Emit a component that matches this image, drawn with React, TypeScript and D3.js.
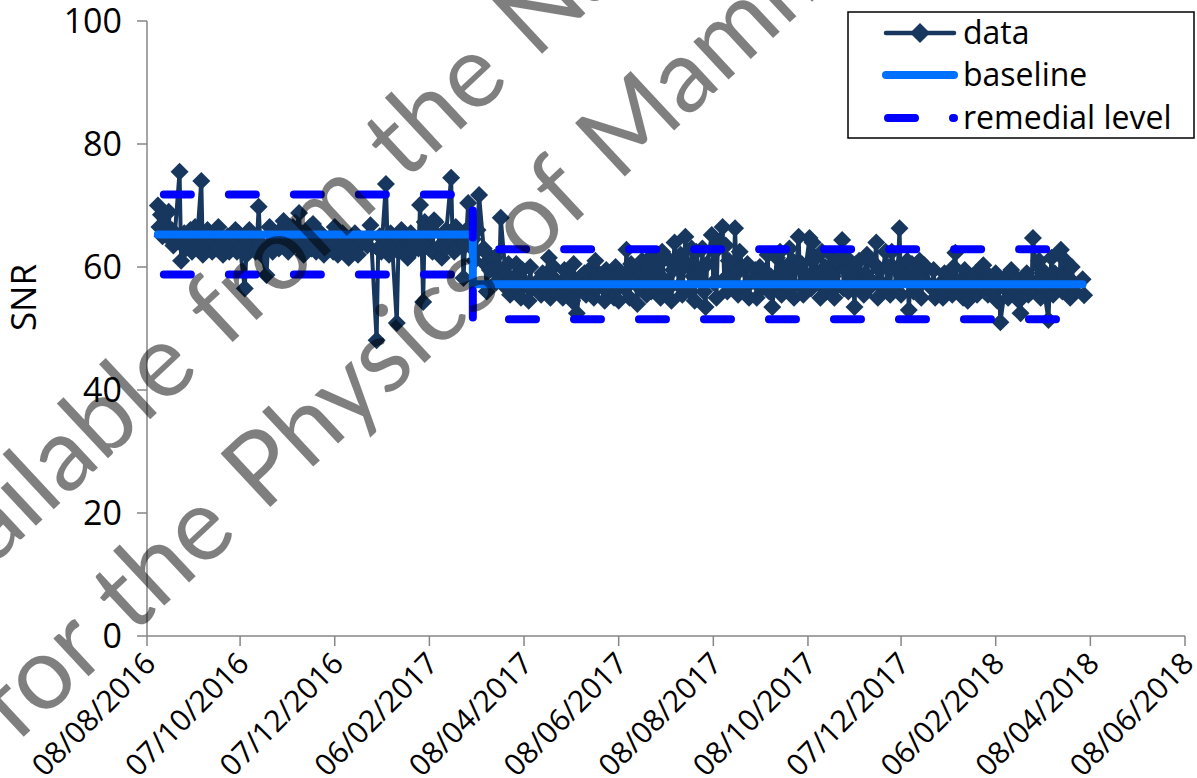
import React from "react";
import * as d3 from "d3";

const WIDTH = 1197;
const HEIGHT = 778;

// Plot frame
const PLOT = { left: 147, right: 1185, top: 21, bottom: 636 };

const xTickLabels = [
  "08/08/2016", "07/10/2016", "07/12/2016", "06/02/2017", "08/04/2017", "08/06/2017",
  "08/08/2017", "08/10/2017", "07/12/2017", "06/02/2018", "08/04/2018", "08/06/2018",
];
const yTickValues = [0, 20, 40, 60, 80, 100];

// Daily QC sessions (dd/mm/yyyy), one row per month
const sessionDates: string[] = [
  "15/08/2016", "16/08/2016", "17/08/2016", "18/08/2016", "19/08/2016", "22/08/2016", "23/08/2016", "24/08/2016", "25/08/2016", "26/08/2016", "29/08/2016", "30/08/2016", "31/08/2016",
  "01/09/2016", "02/09/2016", "05/09/2016", "06/09/2016", "07/09/2016", "08/09/2016", "09/09/2016", "12/09/2016", "13/09/2016", "14/09/2016", "15/09/2016", "16/09/2016", "19/09/2016", "20/09/2016", "21/09/2016", "22/09/2016", "23/09/2016", "26/09/2016", "27/09/2016", "28/09/2016", "29/09/2016", "30/09/2016",
  "03/10/2016", "04/10/2016", "05/10/2016", "06/10/2016", "07/10/2016", "10/10/2016", "11/10/2016", "12/10/2016", "13/10/2016", "14/10/2016", "17/10/2016", "18/10/2016", "19/10/2016", "20/10/2016", "21/10/2016", "24/10/2016", "25/10/2016", "26/10/2016", "27/10/2016", "28/10/2016", "31/10/2016",
  "01/11/2016", "02/11/2016", "03/11/2016", "04/11/2016", "07/11/2016", "08/11/2016", "09/11/2016", "10/11/2016", "11/11/2016", "14/11/2016", "15/11/2016", "16/11/2016", "17/11/2016", "18/11/2016", "21/11/2016", "22/11/2016", "23/11/2016", "24/11/2016", "25/11/2016", "28/11/2016", "29/11/2016", "30/11/2016",
  "01/12/2016", "02/12/2016", "05/12/2016", "06/12/2016", "07/12/2016", "08/12/2016", "09/12/2016", "12/12/2016", "13/12/2016", "14/12/2016", "15/12/2016", "16/12/2016", "19/12/2016", "20/12/2016", "21/12/2016", "22/12/2016", "23/12/2016", "28/12/2016", "29/12/2016", "30/12/2016",
  "03/01/2017", "04/01/2017", "05/01/2017", "06/01/2017", "09/01/2017", "10/01/2017", "11/01/2017", "12/01/2017", "13/01/2017", "16/01/2017", "17/01/2017", "18/01/2017", "19/01/2017", "20/01/2017", "23/01/2017", "24/01/2017", "25/01/2017", "26/01/2017", "27/01/2017", "30/01/2017", "31/01/2017",
  "01/02/2017", "02/02/2017", "03/02/2017", "06/02/2017", "07/02/2017", "08/02/2017", "09/02/2017", "10/02/2017", "13/02/2017", "14/02/2017", "15/02/2017", "16/02/2017", "17/02/2017", "20/02/2017", "21/02/2017", "22/02/2017", "23/02/2017", "24/02/2017", "27/02/2017", "28/02/2017",
  "01/03/2017", "02/03/2017", "03/03/2017", "06/03/2017", "07/03/2017", "08/03/2017", "09/03/2017", "10/03/2017", "13/03/2017", "14/03/2017", "15/03/2017", "16/03/2017", "17/03/2017", "20/03/2017", "21/03/2017", "22/03/2017", "23/03/2017", "24/03/2017", "27/03/2017", "28/03/2017", "29/03/2017", "30/03/2017", "31/03/2017",
  "03/04/2017", "04/04/2017", "05/04/2017", "06/04/2017", "07/04/2017", "10/04/2017", "11/04/2017", "12/04/2017", "13/04/2017", "18/04/2017", "19/04/2017", "20/04/2017", "21/04/2017", "24/04/2017", "25/04/2017", "26/04/2017", "27/04/2017", "28/04/2017",
  "02/05/2017", "03/05/2017", "04/05/2017", "05/05/2017", "08/05/2017", "09/05/2017", "10/05/2017", "11/05/2017", "12/05/2017", "15/05/2017", "16/05/2017", "17/05/2017", "18/05/2017", "19/05/2017", "22/05/2017", "23/05/2017", "24/05/2017", "25/05/2017", "26/05/2017", "30/05/2017", "31/05/2017",
  "01/06/2017", "02/06/2017", "05/06/2017", "06/06/2017", "07/06/2017", "08/06/2017", "09/06/2017", "12/06/2017", "13/06/2017", "14/06/2017", "15/06/2017", "16/06/2017", "19/06/2017", "20/06/2017", "21/06/2017", "22/06/2017", "23/06/2017", "26/06/2017", "27/06/2017", "28/06/2017", "29/06/2017", "30/06/2017",
  "03/07/2017", "04/07/2017", "05/07/2017", "06/07/2017", "07/07/2017", "10/07/2017", "11/07/2017", "12/07/2017", "13/07/2017", "14/07/2017", "17/07/2017", "18/07/2017", "19/07/2017", "20/07/2017", "21/07/2017", "24/07/2017", "25/07/2017", "26/07/2017", "27/07/2017", "28/07/2017", "31/07/2017",
  "01/08/2017", "02/08/2017", "03/08/2017", "04/08/2017", "07/08/2017", "08/08/2017", "09/08/2017", "10/08/2017", "11/08/2017", "14/08/2017", "15/08/2017", "16/08/2017", "17/08/2017", "18/08/2017", "21/08/2017", "22/08/2017", "23/08/2017", "24/08/2017", "25/08/2017", "29/08/2017", "30/08/2017", "31/08/2017",
  "01/09/2017", "04/09/2017", "05/09/2017", "06/09/2017", "07/09/2017", "08/09/2017", "11/09/2017", "12/09/2017", "13/09/2017", "14/09/2017", "15/09/2017", "18/09/2017", "19/09/2017", "20/09/2017", "21/09/2017", "22/09/2017", "25/09/2017", "26/09/2017", "27/09/2017", "28/09/2017", "29/09/2017",
  "02/10/2017", "03/10/2017", "04/10/2017", "05/10/2017", "06/10/2017", "09/10/2017", "10/10/2017", "11/10/2017", "12/10/2017", "13/10/2017", "16/10/2017", "17/10/2017", "18/10/2017", "19/10/2017", "20/10/2017", "23/10/2017", "24/10/2017", "25/10/2017", "26/10/2017", "27/10/2017", "30/10/2017", "31/10/2017",
  "01/11/2017", "02/11/2017", "03/11/2017", "06/11/2017", "07/11/2017", "08/11/2017", "09/11/2017", "10/11/2017", "13/11/2017", "14/11/2017", "15/11/2017", "16/11/2017", "17/11/2017", "20/11/2017", "21/11/2017", "22/11/2017", "23/11/2017", "24/11/2017", "27/11/2017", "28/11/2017", "29/11/2017", "30/11/2017",
  "01/12/2017", "04/12/2017", "05/12/2017", "06/12/2017", "07/12/2017", "08/12/2017", "11/12/2017", "12/12/2017", "13/12/2017", "14/12/2017", "15/12/2017", "18/12/2017", "19/12/2017", "20/12/2017", "21/12/2017", "22/12/2017", "27/12/2017", "28/12/2017", "29/12/2017",
  "02/01/2018", "03/01/2018", "04/01/2018", "05/01/2018", "08/01/2018", "09/01/2018", "10/01/2018", "11/01/2018", "12/01/2018", "15/01/2018", "16/01/2018", "17/01/2018", "18/01/2018", "19/01/2018", "22/01/2018", "23/01/2018", "24/01/2018", "25/01/2018", "26/01/2018", "29/01/2018", "30/01/2018", "31/01/2018",
  "01/02/2018", "02/02/2018", "05/02/2018", "06/02/2018", "07/02/2018", "08/02/2018", "09/02/2018", "12/02/2018", "13/02/2018", "14/02/2018", "15/02/2018", "16/02/2018", "19/02/2018", "20/02/2018", "21/02/2018", "22/02/2018", "23/02/2018", "26/02/2018", "27/02/2018", "28/02/2018",
  "01/03/2018", "02/03/2018", "05/03/2018", "06/03/2018", "07/03/2018", "08/03/2018", "09/03/2018", "12/03/2018", "13/03/2018", "14/03/2018", "15/03/2018", "16/03/2018", "19/03/2018", "20/03/2018", "21/03/2018", "22/03/2018", "23/03/2018", "26/03/2018", "27/03/2018", "28/03/2018", "29/03/2018",
  "03/04/2018", "04/04/2018",
];

// Measured SNR, same order as sessionDates
const snrValues: number[] = [
  70.0, 66.5, 68.5, 65.0, 67.0, 69.0, 64.5, 66.0, 63.5, 65.5, 75.5, 61.0, 64.0,
  65.5, 63.0, 66.0, 62.5, 64.5, 66.5, 63.5, 74.0, 62.0, 65.0, 63.5, 66.0, 62.5, 64.0, 65.5, 63.0, 66.5, 62.0, 64.5, 63.0, 65.0, 62.5,
  64.0, 66.0, 62.5, 65.5, 63.0, 56.5, 62.0, 64.5, 66.0, 63.0, 62.5, 65.0, 69.8, 64.0, 62.0, 58.7, 63.5, 66.5, 64.0, 62.5, 65.0,
  63.0, 66.0, 64.5, 67.5, 62.5, 65.0, 63.5, 66.5, 64.0, 68.8, 63.0, 65.5, 62.0, 64.5, 66.5, 63.0, 67.0, 64.0, 62.5, 65.5, 63.5, 62.0,
  64.5, 63.0, 65.0, 62.5, 66.5, 64.0, 62.0, 65.5, 63.0, 64.5, 62.5, 61.5, 64.0, 65.5, 63.0, 62.0, 64.5, 63.5, 65.0, 66.8,
  48.1, 63.0, 65.0, 62.5, 73.5, 64.0, 62.0, 65.5, 63.5, 50.9, 62.5, 64.5, 66.0, 63.0, 61.5, 64.0, 65.5, 62.5, 64.0, 63.0, 70.1,
  64.0, 54.3, 67.3, 63.0, 65.5, 62.5, 67.6, 67.3, 63.5, 61.5, 65.0, 63.0, 66.0, 74.5, 64.0, 62.5, 66.5, 63.0, 65.0, 58.2,
  63.5, 66.0, 70.4, 64.5, 61.0, 62.5, 66.0, 71.7, 63.0, 60.5, 56.0, 62.0, 59.5, 61.5, 57.5, 60.0, 58.5, 68.0, 59.0, 56.5, 60.5, 55.5, 58.0,
  60.5, 56.0, 58.5, 55.0, 59.5, 57.0, 54.5, 60.0, 56.5, 58.0, 55.5, 59.0, 57.0, 61.5, 55.0, 58.5, 60.0, 56.0,
  57.5, 55.0, 59.5, 56.0, 58.0, 54.5, 60.5, 57.0, 52.5, 58.5, 56.0, 59.0, 55.5, 57.5, 60.0, 55.0, 61.0, 56.5, 58.0, 54.5, 59.5,
  56.0, 58.5, 55.0, 60.0, 57.0, 54.5, 59.0, 56.5, 62.8, 57.5, 55.0, 60.5, 58.0, 54.0, 59.5, 56.5, 61.0, 55.5, 58.5, 60.0, 56.0, 62.0,
  57.5, 60.5, 55.0, 62.5, 58.0, 56.5, 61.0, 54.5, 59.5, 64.0, 57.0, 62.0, 55.5, 60.0, 64.9, 56.0, 63.0, 58.5, 54.5, 62.5, 57.5,
  63.0, 56.0, 53.5, 60.5, 65.2, 57.5, 62.5, 55.0, 64.0, 66.5, 58.0, 63.5, 56.0, 61.0, 57.5, 66.3, 59.0, 55.5, 62.5, 57.0, 60.5, 55.0,
  57.5, 59.5, 55.0, 58.0, 60.0, 56.5, 59.0, 62.0, 56.0, 58.5, 53.5, 61.5, 57.0, 62.5, 55.5, 60.0, 58.0, 63.0, 56.5, 61.0, 55.0,
  64.9, 57.0, 60.5, 55.5, 59.0, 64.7, 56.5, 64.0, 58.0, 61.5, 55.0, 62.5, 57.5, 60.0, 56.0, 62.0, 58.5, 55.0, 61.0, 57.0, 64.4, 56.5,
  59.5, 61.5, 56.0, 58.5, 53.5, 60.5, 57.0, 61.0, 55.5, 59.0, 62.0, 56.5, 58.0, 60.5, 64.0, 55.0, 59.5, 57.5, 62.5, 56.0, 60.0, 55.5,
  62.5, 57.0, 60.0, 66.3, 55.5, 58.5, 61.0, 53.0, 57.5, 60.5, 56.0, 59.0, 61.0, 55.0, 58.0, 60.3, 56.5, 59.5, 55.0,
  57.5, 55.0, 59.0, 56.0, 58.5, 55.5, 60.0, 62.3, 56.5, 58.0, 55.0, 59.5, 57.0, 54.5, 58.5, 56.0, 59.0, 55.5, 57.5, 60.3, 56.0, 58.0,
  55.5, 58.5, 56.0, 59.0, 54.5, 57.5, 51.0, 56.5, 58.5, 55.0, 57.0, 59.5, 56.0, 58.0, 54.5, 52.5, 57.0, 59.0, 55.5, 58.0,
  56.0, 64.7, 57.5, 61.0, 55.0, 59.5, 56.5, 51.4, 58.0, 61.5, 55.5, 59.0, 57.0, 62.8, 56.0, 58.5, 61.0, 55.0, 60.0, 57.5, 56.0,
  58.0, 55.4,
];

// Baseline and remedial levels, stepping down when the baseline was reset
const levelDates = ["15/08/2016", "06/03/2017", "06/03/2017", "03/04/2018"];
const baselineValues = [65.3, 65.3, 57.2, 57.2];
const upperRemedialValues = [71.8, 71.8, 62.9, 62.9];
const lowerRemedialValues = [58.8, 58.8, 51.5, 51.5];

const legendLabels = ["data", "baseline", "remedial level"];
const watermarkLines = [
  "Available from the National Coordinating Centre",
  "for the Physics of Mammography",
];

const COLORS = {
  data: "#17375E",
  baseline: "#0070FF",
  remedial: "#0000FF",
  axis: "#868686",
};

const FONT = "'Open Sans', 'DejaVu Sans', sans-serif";
const WATERMARK_FONT = "Lato, 'Open Sans', sans-serif";
const parseDate = d3.timeParse("%d/%m/%Y");

export default function App() {
  const x = d3
    .scaleTime()
    .domain([parseDate(xTickLabels[0])!, parseDate(xTickLabels[xTickLabels.length - 1])!])
    .range([PLOT.left, PLOT.right]);
  const y = d3.scaleLinear().domain([0, 100]).range([PLOT.bottom, PLOT.top]);

  type Pt = [Date, number];
  const line = d3
    .line<Pt>()
    .x((d) => x(d[0]))
    .y((d) => y(d[1]));

  const n = Math.min(sessionDates.length, snrValues.length);
  const dataPts: Pt[] = sessionDates.slice(0, n).map((s, i) => [parseDate(s)!, snrValues[i]]);
  const levelPts = (vals: number[]): Pt[] => levelDates.map((s, i) => [parseDate(s)!, vals[i]]);

  const diamond = (cx: number, cy: number, r: number) =>
    `M${cx},${cy - r}L${cx + r},${cy}L${cx},${cy + r}L${cx - r},${cy}Z`;

  const dash = "27 38";
  const legendRows = [33, 75, 118];

  return (
    <svg
      width={WIDTH}
      height={HEIGHT}
      style={{ position: "absolute", left: 0, top: 0, background: "#fff" }}
      fontFamily={FONT}
    >
      <rect x={0} y={0} width={WIDTH} height={HEIGHT} fill="#fff" />

      {/* y axis */}
      <line x1={PLOT.left} x2={PLOT.left} y1={PLOT.top} y2={PLOT.bottom} stroke={COLORS.axis} strokeWidth={1.5} />
      {yTickValues.map((v) => (
        <g key={v}>
          <line x1={PLOT.left - 10} x2={PLOT.left} y1={y(v)} y2={y(v)} stroke={COLORS.axis} strokeWidth={1.5} />
          <text x={122} y={y(v)} dy="0.35em" textAnchor="end" fontSize={34} fill="#000">
            {v}
          </text>
        </g>
      ))}
      <text
        transform={`translate(36,${(PLOT.top + PLOT.bottom) / 2 - 31}) rotate(-90)`}
        textAnchor="middle"
        fontSize={35}
        fill="#000"
      >
        SNR
      </text>

      {/* x axis */}
      <line x1={PLOT.left} x2={PLOT.right} y1={PLOT.bottom} y2={PLOT.bottom} stroke={COLORS.axis} strokeWidth={1.5} />
      {xTickLabels.map((lbl) => {
        const tx = x(parseDate(lbl)!);
        return (
          <g key={lbl}>
            <line x1={tx} x2={tx} y1={PLOT.bottom} y2={PLOT.bottom + 10} stroke={COLORS.axis} strokeWidth={1.5} />
            <text
              transform={`translate(${tx + 3},${PLOT.bottom + 22}) rotate(-45)`}
              textAnchor="end"
              dy="0.35em"
              fontSize={30}
              fill="#000"
            >
              {lbl}
            </text>
          </g>
        );
      })}

      {/* data series */}
      <path d={line(dataPts) ?? ""} fill="none" stroke={COLORS.data} strokeWidth={4} strokeLinejoin="round" />
      <g fill={COLORS.data}>
        {dataPts.map((d, i) => (
          <path key={i} d={diamond(x(d[0]), y(d[1]), 9)} />
        ))}
      </g>

      {/* baseline */}
      <path
        d={line(levelPts(baselineValues)) ?? ""}
        fill="none"
        stroke={COLORS.baseline}
        strokeWidth={8}
        strokeLinecap="round"
      />

      {/* remedial levels */}
      {[upperRemedialValues, lowerRemedialValues].map((vals, i) => (
        <path
          key={i}
          d={line(levelPts(vals)) ?? ""}
          fill="none"
          stroke={COLORS.remedial}
          strokeWidth={8}
          strokeDasharray={dash}
          strokeDashoffset={-6}
          strokeLinecap="round"
        />
      ))}

      {/* legend */}
      <rect x={848} y={12} width={346} height={126} fill="#fff" stroke="#000" strokeWidth={1.5} />
      <line x1={886} x2={954} y1={legendRows[0]} y2={legendRows[0]} stroke={COLORS.data} strokeWidth={4.5} strokeLinecap="round" />
      <path d={diamond(920, legendRows[0], 10)} fill={COLORS.data} />
      <line x1={886} x2={954} y1={legendRows[1]} y2={legendRows[1]} stroke={COLORS.baseline} strokeWidth={8} strokeLinecap="round" />
      <line
        x1={888}
        x2={954}
        y1={legendRows[2]}
        y2={legendRows[2]}
        stroke={COLORS.remedial}
        strokeWidth={8}
        strokeDasharray={dash}
        strokeLinecap="round"
      />
      {legendLabels.map((lbl, i) => (
        <text key={lbl} x={963} y={legendRows[i]} dy="0.35em" fontSize={32} fill="#000">
          {lbl}
        </text>
      ))}

      {/* watermark */}
      <text
        transform="translate(-92,645) rotate(-43)"
        fill="#000"
        fillOpacity={0.5}
        fontSize={102}
        fontFamily={WATERMARK_FONT}
        wordSpacing={6}
      >
        {watermarkLines[0]}
      </text>
      <text
        transform="translate(16,744) rotate(-43)"
        fill="#000"
        fillOpacity={0.5}
        fontSize={102}
        fontFamily={WATERMARK_FONT}
        wordSpacing={6}
      >
        {watermarkLines[1]}
      </text>
    </svg>
  );
}
